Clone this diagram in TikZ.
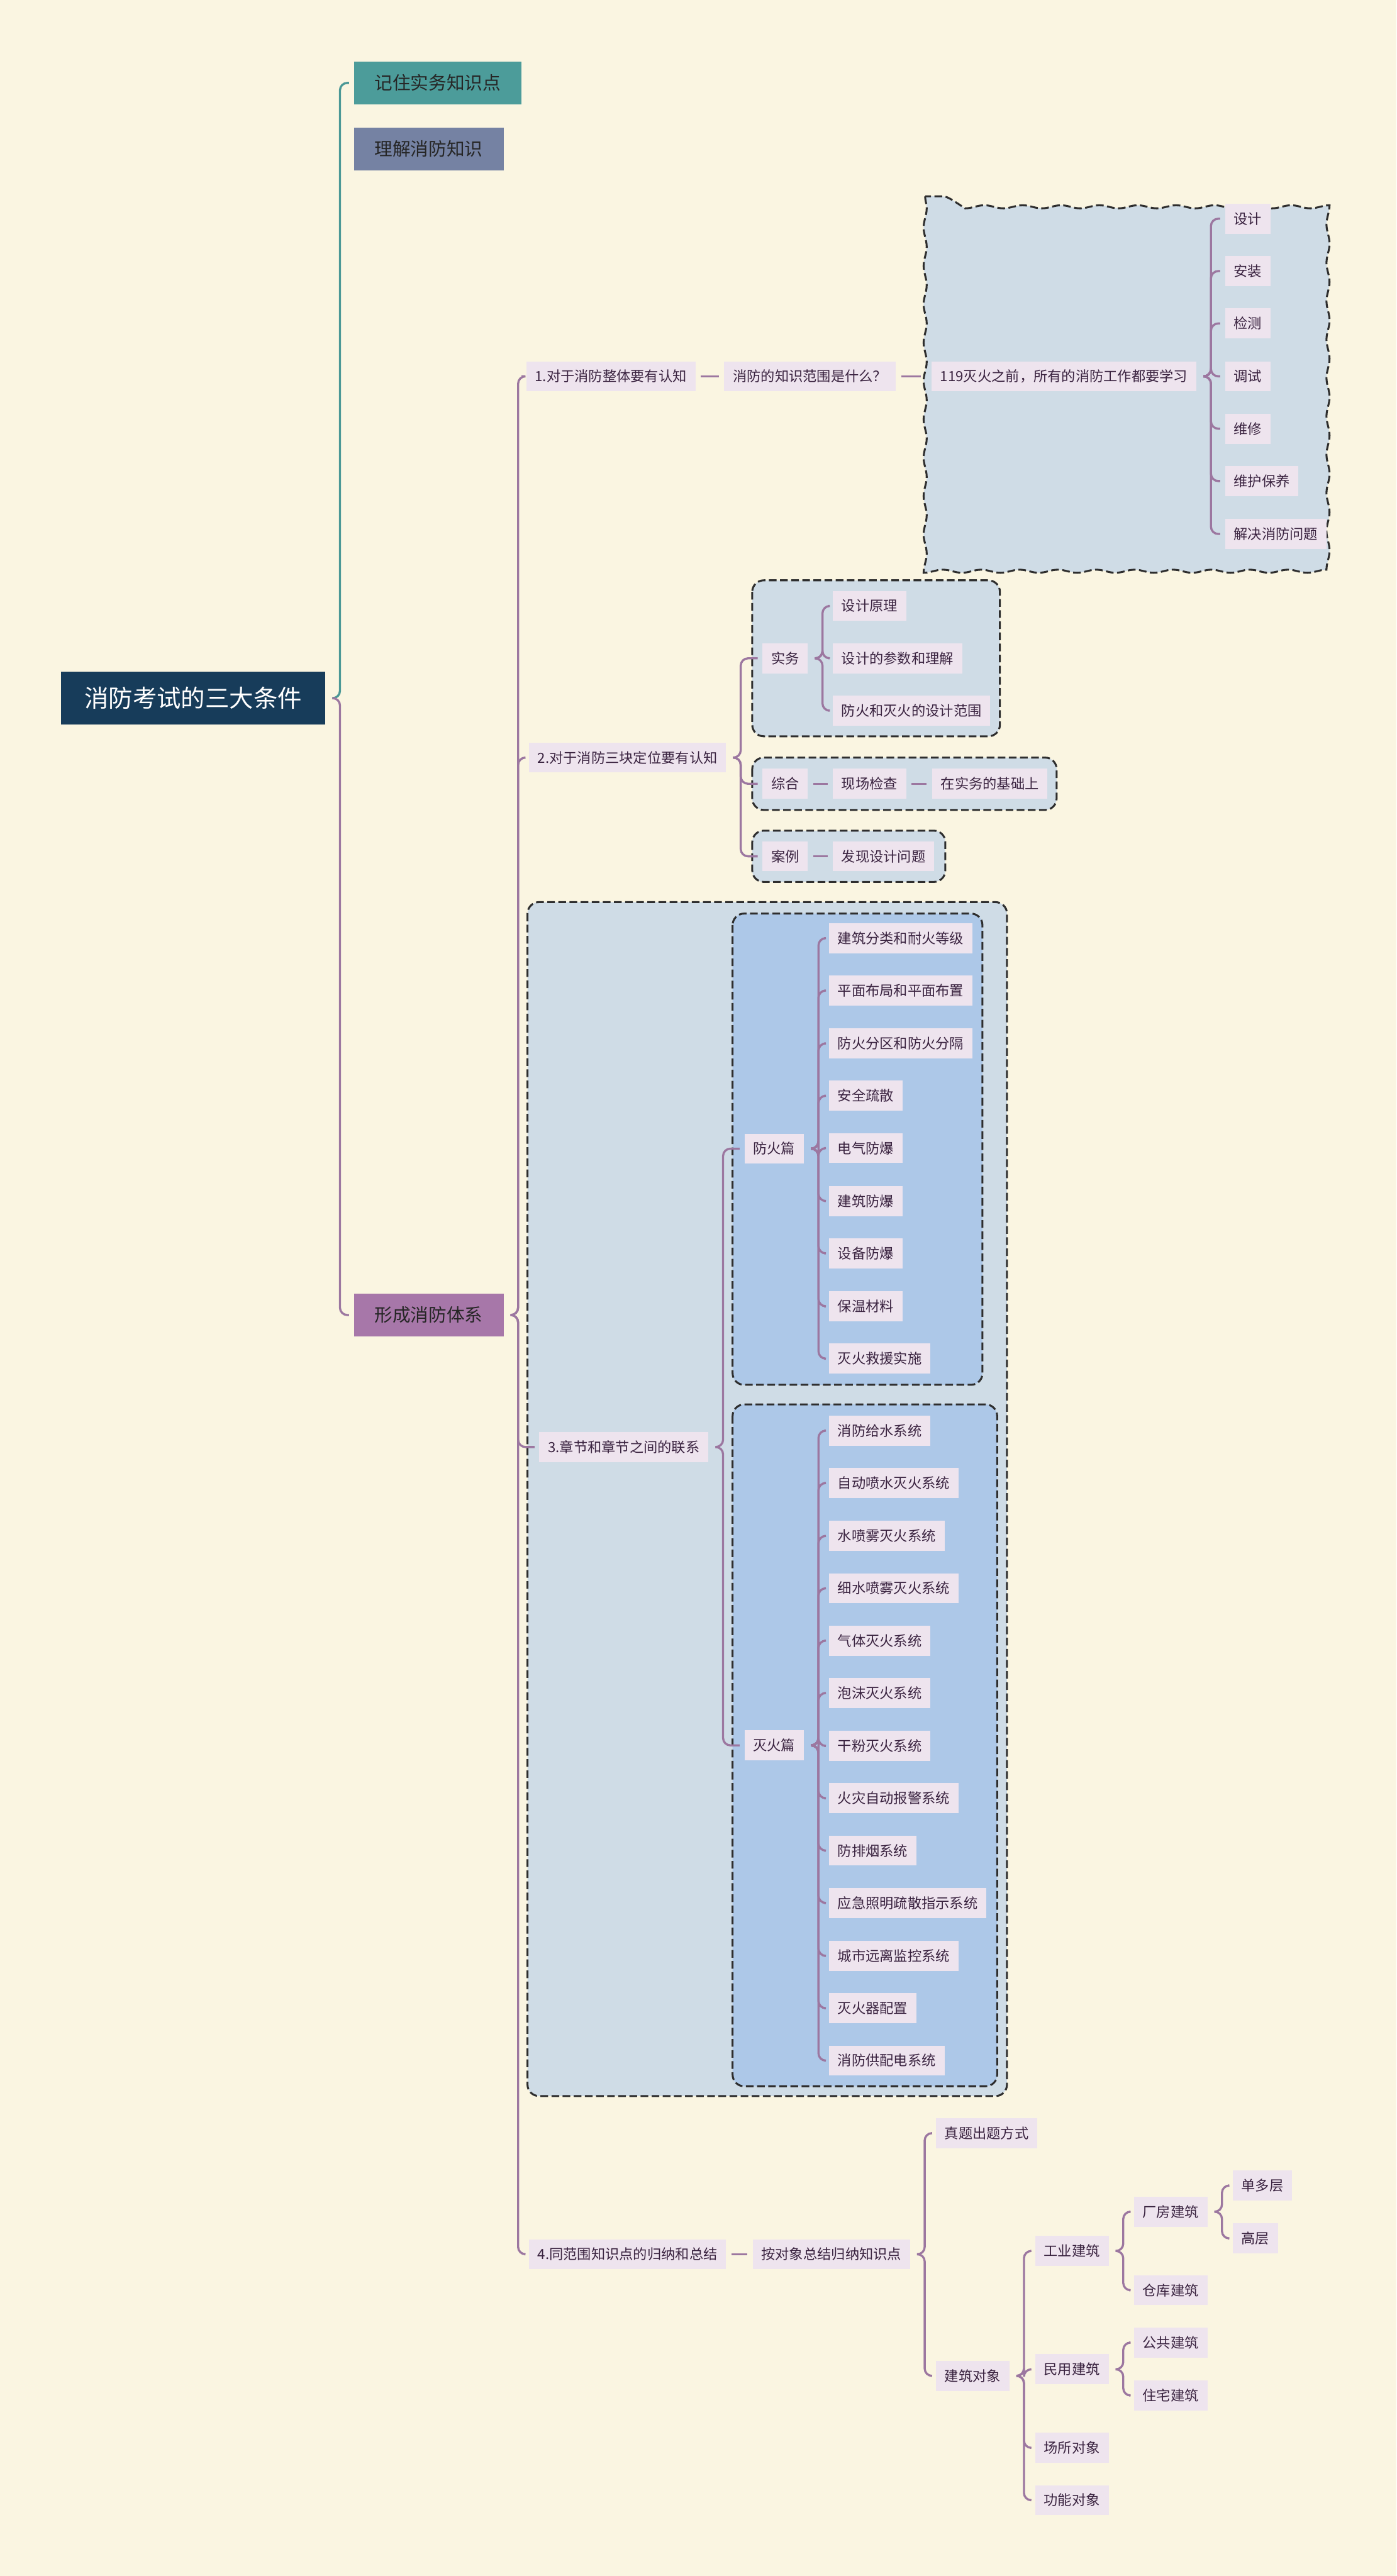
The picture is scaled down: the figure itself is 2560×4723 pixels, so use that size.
\documentclass[tikz,border=0pt]{standalone}
\usepackage{fontspec}
\setmainfont{Noto Sans CJK SC}
\usepackage{xcolor}
\usetikzlibrary{positioning, calc, decorations.pathmorphing}

\definecolor{paper}{HTML}{FAF5E1}
\definecolor{rootblue}{HTML}{173C5A}
\definecolor{tealbox}{HTML}{4C9C9A}
\definecolor{slatebox}{HTML}{7582A3}
\definecolor{plumbox}{HTML}{A777A9}
\definecolor{tealline}{HTML}{4A9896}
\definecolor{plumline}{HTML}{9C77A0}
\definecolor{leaffill}{HTML}{EEE4EE}
\definecolor{leaftext}{HTML}{3A2340}
\definecolor{groupfill}{HTML}{CFDCE6}
\definecolor{innerfill}{HTML}{ADC8E8}
\definecolor{dashline}{HTML}{2E2E2E}

\tikzset{
  leaf/.style={fill=leaffill, text=leaftext, anchor=west, inner xsep=0.16cm, inner ysep=0pt,
    minimum height=0.55cm, font=\fontsize{7.3}{8}\selectfont},
  topic/.style={anchor=west, inner xsep=0.38cm, inner ysep=0pt, minimum height=0.78cm,
    text=black!85, font=\fontsize{9.4}{11}\selectfont},
  conn/.style={plumline, line width=1.1pt, rounded corners=3.8pt},
  tconn/.style={conn, tealline},
  tie/.style={plumline, line width=1.1pt, shorten <=2.6pt, shorten >=2.6pt},
  group/.style={draw=dashline, fill=groupfill, line width=1pt, dash pattern=on 4pt off 1.8pt, rounded corners=6pt},
}

% brace-like branch from a parent to one child
\newcommand{\branchto}[3][conn]{%
  \path ($(#2.east)+(12,0)$) coordinate (j) ($(#2.east)+(26,0)$) coordinate (s);
  \draw[#1] (j) -| (s |- #3.west) -- ([xshift=-2.3pt]#3.west);}

\begin{document}
\begin{tikzpicture}[x=0.01cm, y=-0.01cm]
  \fill[paper] (0,0) rectangle (2560,4723);
  \useasboundingbox (0,0) rectangle (2560,4723);

  % group boxes
  \draw[group, sharp corners, decorate, decoration={snake, amplitude=0.8pt, segment length=20pt}]
    (1696,360) rectangle (2446,1019);
  \draw[group] (1379,1064) rectangle (1833,1350);
  \draw[group] (1379,1389) rectangle (1937,1485);
  \draw[group] (1379,1523) rectangle (1733,1617);
  \draw[group] (967,1654) rectangle (1846,3843);
  \draw[group, fill=innerfill] (1343,1675) rectangle (1801,2539);
  \draw[group, fill=innerfill] (1343,2575) rectangle (1828,3825);

  % root and main topics
  \node[fill=rootblue, text=white, anchor=west, inner xsep=0.43cm, inner ysep=0pt, minimum height=0.96cm,
    font=\fontsize{12.6}{15}\selectfont] (root) at (111,1280) {消防考试的三大条件};
  \node[topic, fill=tealbox] (memo) at (648,152) {记住实务知识点};
  \node[topic, fill=slatebox] (grasp) at (648,273) {理解消防知识};
  \node[topic, fill=plumbox] (system) at (648,2411) {形成消防体系};
  \branchto[tconn]{root}{memo}
  \branchto{root}{system}

  % 1
  \node[leaf] (cog1) at (964,690) {1.对于消防整体要有认知};
  \node[leaf] (scope) at (1327,690) {消防的知识范围是什么？};
  \node[leaf] (before) at (1707,690) {119灭火之前，所有的消防工作都要学习};
  \draw[tie] (cog1.east) -- (scope.west);
  \draw[tie] (scope.east) -- (1697,690);
  \node[leaf] (w1) at (2245,401) {设计};
  \node[leaf] (w2) at (2245,497) {安装};
  \node[leaf] (w3) at (2245,593) {检测};
  \node[leaf] (w4) at (2245,690) {调试};
  \node[leaf] (w5) at (2245,786) {维修};
  \node[leaf] (w6) at (2245,882) {维护保养};
  \node[leaf] (w7) at (2245,979) {解决消防问题};
  \branchto{before}{w1}
  \branchto{before}{w2}
  \branchto{before}{w3}
  \branchto{before}{w4}
  \branchto{before}{w5}
  \branchto{before}{w6}
  \branchto{before}{w7}

  % 2
  \node[leaf] (cog2) at (969,1389) {2.对于消防三块定位要有认知};
  \node[leaf] (prac) at (1397,1207) {实务};
  \node[leaf] (p1) at (1526,1111) {设计原理};
  \node[leaf] (p2) at (1526,1207) {设计的参数和理解};
  \node[leaf] (p3) at (1526,1303) {防火和灭火的设计范围};
  \node[leaf] (comp) at (1397,1437) {综合};
  \node[leaf] (site) at (1526,1437) {现场检查};
  \node[leaf] (base) at (1708,1437) {在实务的基础上};
  \node[leaf] (case) at (1397,1570) {案例};
  \node[leaf] (find) at (1526,1570) {发现设计问题};
  \branchto{cog2}{prac}
  \branchto{cog2}{comp}
  \branchto{cog2}{case}
  \branchto{prac}{p1}
  \branchto{prac}{p2}
  \branchto{prac}{p3}
  \draw[tie] (comp.east) -- (site.west);
  \draw[tie] (site.east) -- (base.west);
  \draw[tie] (case.east) -- (find.west);

  % 3
  \node[leaf] (cog3) at (988,2653) {3.章节和章节之间的联系};
  \node[leaf] (fang) at (1364,2106) {防火篇};
  \node[leaf] (mie) at (1364,3200) {灭火篇};
  \branchto{cog3}{fang}
  \branchto{cog3}{mie}
  \node[leaf] (f1) at (1519,1720) {建筑分类和耐火等级};
  \node[leaf] (f2) at (1519,1816) {平面布局和平面布置};
  \node[leaf] (f3) at (1519,1913) {防火分区和防火分隔};
  \node[leaf] (f4) at (1519,2009) {安全疏散};
  \node[leaf] (f5) at (1519,2105) {电气防爆};
  \node[leaf] (f6) at (1519,2202) {建筑防爆};
  \node[leaf] (f7) at (1519,2298) {设备防爆};
  \node[leaf] (f8) at (1519,2395) {保温材料};
  \node[leaf] (f9) at (1519,2491) {灭火救援实施};
  \branchto{fang}{f1}
  \branchto{fang}{f2}
  \branchto{fang}{f3}
  \branchto{fang}{f4}
  \branchto{fang}{f5}
  \branchto{fang}{f6}
  \branchto{fang}{f7}
  \branchto{fang}{f8}
  \branchto{fang}{f9}
  \node[leaf] (m1) at (1519,2623) {消防给水系统};
  \node[leaf] (m2) at (1519,2719) {自动喷水灭火系统};
  \node[leaf] (m3) at (1519,2816) {水喷雾灭火系统};
  \node[leaf] (m4) at (1519,2912) {细水喷雾灭火系统};
  \node[leaf] (m5) at (1519,3008) {气体灭火系统};
  \node[leaf] (m6) at (1519,3104) {泡沫灭火系统};
  \node[leaf] (m7) at (1519,3201) {干粉灭火系统};
  \node[leaf] (m8) at (1519,3297) {火灾自动报警系统};
  \node[leaf] (m9) at (1519,3393) {防排烟系统};
  \node[leaf] (m10) at (1519,3489) {应急照明疏散指示系统};
  \node[leaf] (m11) at (1519,3586) {城市远离监控系统};
  \node[leaf] (m12) at (1519,3682) {灭火器配置};
  \node[leaf] (m13) at (1519,3778) {消防供配电系统};
  \branchto{mie}{m1}
  \branchto{mie}{m2}
  \branchto{mie}{m3}
  \branchto{mie}{m4}
  \branchto{mie}{m5}
  \branchto{mie}{m6}
  \branchto{mie}{m7}
  \branchto{mie}{m8}
  \branchto{mie}{m9}
  \branchto{mie}{m10}
  \branchto{mie}{m11}
  \branchto{mie}{m12}
  \branchto{mie}{m13}

  % 4
  \node[leaf] (cog4) at (969,4133) {4.同范围知识点的归纳和总结};
  \node[leaf] (sum) at (1379,4133) {按对象总结归纳知识点};
  \draw[tie] (cog4.east) -- (sum.west);
  \node[leaf] (exam) at (1715,3911) {真题出题方式};
  \node[leaf] (bld) at (1715,4356) {建筑对象};
  \node[leaf] (ind) at (1897,4127) {工业建筑};
  \node[leaf] (civ) at (1897,4344) {民用建筑};
  \node[leaf] (place) at (1897,4488) {场所对象};
  \node[leaf] (func) at (1897,4584) {功能对象};
  \node[leaf] (plant) at (2078,4055) {厂房建筑};
  \node[leaf] (store) at (2078,4199) {仓库建筑};
  \node[leaf] (pub) at (2078,4295) {公共建筑};
  \node[leaf] (home) at (2078,4392) {住宅建筑};
  \node[leaf] (low) at (2259,4007) {单多层};
  \node[leaf] (high) at (2259,4104) {高层};
  \branchto{sum}{exam}
  \branchto{sum}{bld}
  \branchto{bld}{ind}
  \branchto{bld}{civ}
  \branchto{bld}{place}
  \branchto{bld}{func}
  \branchto{ind}{plant}
  \branchto{ind}{store}
  \branchto{civ}{pub}
  \branchto{civ}{home}
  \branchto{plant}{low}
  \branchto{plant}{high}

  % topic branches
  \branchto{system}{cog1}
  \branchto{system}{cog2}
  \branchto{system}{cog3}
  \branchto{system}{cog4}
\end{tikzpicture}
\end{document}
